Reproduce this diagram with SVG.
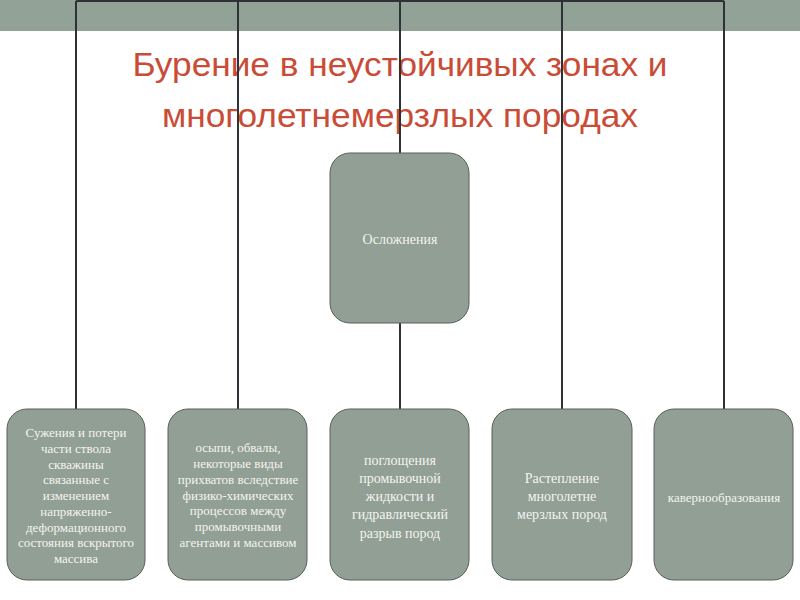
<svg xmlns="http://www.w3.org/2000/svg" width="800" height="600" viewBox="0 0 800 600">
  <style>
    .box { fill: #919f95; stroke: #5a5f5c; stroke-width: 1; }
    .lbl { font-family: "Liberation Serif", "DejaVu Serif", serif; fill: #f4f4ef; text-anchor: middle; }
    .s13 { font-size: 13px; }
    .s14 { font-size: 14px; }
    .title { font-family: "Liberation Sans", Arial, sans-serif; font-size: 33px; fill: #c94c37; text-anchor: middle; }
    .conn { stroke: #2e3136; stroke-width: 2; fill: none; }
  </style>
  <rect x="0" y="0" width="800" height="600" fill="#ffffff"/>
  <rect x="0" y="0" width="800" height="31" fill="#93a297"/>
  <g id="title">
    <text class="title" x="400" y="76" textLength="535" lengthAdjust="spacingAndGlyphs">Бурение в неустойчивых зонах и</text>
    <text class="title" x="400" y="127" textLength="476" lengthAdjust="spacingAndGlyphs">многолетнемерзлых породах</text>
  </g>
  <g id="connectors">
    <path class="conn" d="M76 1 H724"/>
    <path class="conn" d="M76 1 V409"/>
    <path class="conn" d="M238 1 V409"/>
    <path class="conn" d="M400 1 V153"/>
    <path class="conn" d="M400 323 V409"/>
    <path class="conn" d="M562 1 V409"/>
    <path class="conn" d="M724 1 V409"/>
  </g>
  <g id="root">
    <rect class="box" x="330" y="153" width="139" height="170" rx="20" ry="20"/>
    <text class="lbl s14" x="400" y="244">Осложнения</text>
  </g>
  <g id="n1">
    <rect class="box" x="7" y="409" width="138" height="171" rx="20" ry="20"/>
    <text class="lbl s13" x="76" y="437">Сужения и потери</text>
    <text class="lbl s13" x="76" y="453">части ствола</text>
    <text class="lbl s13" x="76" y="469">скважины</text>
    <text class="lbl s13" x="76" y="484">связанные с</text>
    <text class="lbl s13" x="76" y="500">изменением</text>
    <text class="lbl s13" x="76" y="516">напряженно-</text>
    <text class="lbl s13" x="76" y="532">деформационного</text>
    <text class="lbl s13" x="76" y="547">состояния вскрытого</text>
    <text class="lbl s13" x="76" y="563">массива</text>
  </g>
  <g id="n2">
    <rect class="box" x="168" y="409" width="139" height="171" rx="20" ry="20"/>
    <text class="lbl s13" x="238" y="452">осыпи, обвалы,</text>
    <text class="lbl s13" x="238" y="468">некоторые виды</text>
    <text class="lbl s13" x="238" y="484">прихватов вследствие</text>
    <text class="lbl s13" x="238" y="500">физико-химических</text>
    <text class="lbl s13" x="238" y="515">процессов между</text>
    <text class="lbl s13" x="238" y="531">промывочными</text>
    <text class="lbl s13" x="238" y="547">агентами и массивом</text>
  </g>
  <g id="n3">
    <rect class="box" x="330" y="409" width="139" height="171" rx="20" ry="20"/>
    <text class="lbl s14" x="400" y="465">поглощения</text>
    <text class="lbl s14" x="400" y="483">промывочной</text>
    <text class="lbl s14" x="400" y="501">жидкости и</text>
    <text class="lbl s14" x="400" y="519">гидравлический</text>
    <text class="lbl s14" x="400" y="538">разрыв пород</text>
  </g>
  <g id="n4">
    <rect class="box" x="492" y="409" width="140" height="171" rx="20" ry="20"/>
    <text class="lbl s14" x="562" y="483">Растепление</text>
    <text class="lbl s14" x="562" y="501">многолетне</text>
    <text class="lbl s14" x="562" y="519">мерзлых пород</text>
  </g>
  <g id="n5">
    <rect class="box" x="654" y="409" width="139" height="171" rx="20" ry="20"/>
    <text class="lbl s13" x="724" y="502">кавернообразования</text>
  </g>
</svg>
